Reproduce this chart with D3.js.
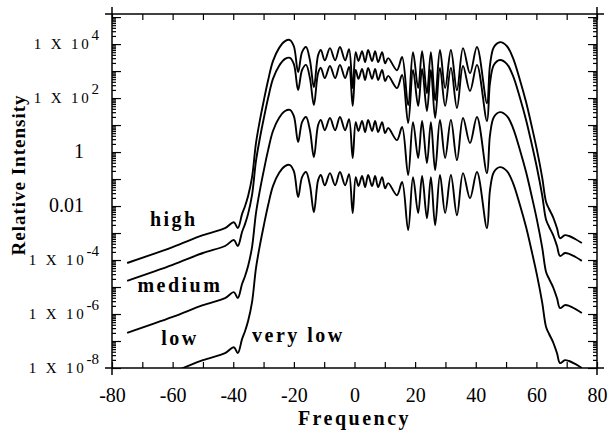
<!DOCTYPE html>
<html>
<head>
<meta charset="utf-8">
<script src="https://cdn.jsdelivr.net/npm/d3@7"></script>
<style>
  body { margin: 0; background: #fff; }
  .tick line { stroke: #000; stroke-width: 1.2; }
  .tick text { font-family: "Liberation Serif", serif; font-size: 20px; fill: #000; }
  .curve { fill: none; stroke: #000; stroke-width: 1.9; stroke-linejoin: round; }
  .lbl { font-family: "Liberation Serif", serif; font-weight: bold; font-size: 20px; letter-spacing: 2.5px; }
</style>
</head>
<body>
<script>
// Frequency samples shared by all four spectra
const freq = [-75, -60, -50, -42.7, -39.8, -38.5, -37.1, -36.1, -35.1, -33.8,
  -32.5, -31.2, -29.9, -28.5, -26.9, -24.9, -22.9, -21.3, -20.0, -18.6,
  -17.3, -16.0, -14.7, -13.4, -12.0, -11.1, -9.8, -8.1, -6.4, -4.8,
  -3.1, -1.8, -0.6, 0.4, 1.3, 2.5, 3.5, 4.5, 5.8, 6.8,
  7.8, 9.1, 10.1, 11.1, 14.0, 15.7, 17.7, 19.3, 21.0, 22.3,
  23.9, 25.2, 26.6, 28.2, 29.9, 31.8, 33.8, 35.8, 38.1, 40.4,
  43.7, 44.7, 46.0, 48.0, 50.3, 52.3, 54.6, 56.6, 58.6, 60.2,
  61.9, 63.2, 64.2, 65.5, 66.8, 67.8, 69.4, 70.8, 72.8, 75.0];

// log10 of relative intensity
const highExp = [-4.11, -3.52, -3.08, -2.82, -2.60, -2.82, -2.30, -2.00, -1.63, -0.93,
  0.33, 1.18, 1.92, 2.66, 3.37, 3.85, 4.11, 4.15, 3.92, 2.96,
  3.70, 3.89, 3.40, 2.40, 3.59, 3.78, 3.40, 3.85, 3.40, 3.89,
  3.40, 3.81, 2.37, 3.70, 3.37, 3.74, 3.33, 3.78, 3.37, 3.74,
  3.33, 3.70, 3.29, 3.48, 3.03, 3.52, 1.74, 3.70, 2.37, 3.74,
  2.18, 3.70, 1.92, 3.78, 2.37, 3.78, 2.29, 3.85, 2.92, 3.89,
  1.81, 3.22, 3.89, 4.07, 3.92, 3.48, 2.66, 1.85, 0.89, 0.07,
  -0.93, -1.85, -2.11, -2.41, -2.82, -3.19, -3.08, -3.11, -3.22, -3.37];

const mediumExp = [-4.77, -4.18, -3.74, -3.48, -3.26, -3.48, -2.96, -2.66, -2.29, -1.59,
  -0.33, 0.52, 1.26, 2.00, 2.71, 3.19, 3.45, 3.49, 3.26, 2.30,
  3.04, 3.23, 2.74, 1.74, 2.93, 3.12, 2.74, 3.19, 2.74, 3.23,
  2.74, 3.15, 1.71, 3.04, 2.71, 3.08, 2.67, 3.12, 2.71, 3.08,
  2.67, 3.04, 2.63, 2.82, 2.37, 2.86, 1.08, 3.04, 1.71, 3.08,
  1.52, 3.04, 1.26, 3.12, 1.71, 3.12, 1.63, 3.19, 2.26, 3.23,
  1.15, 2.56, 3.23, 3.41, 3.26, 2.82, 2.00, 1.19, 0.23, -0.59,
  -1.59, -2.51, -2.77, -3.07, -3.48, -3.85, -3.74, -3.77, -3.88, -4.03];

const lowExp = [-6.70, -6.11, -5.67, -5.41, -5.19, -5.41, -4.89, -4.59, -4.22, -3.52,
  -2.26, -1.41, -0.67, 0.07, 0.78, 1.26, 1.52, 1.56, 1.33, 0.37,
  1.11, 1.30, 0.81, -0.19, 1.00, 1.19, 0.81, 1.26, 0.81, 1.30,
  0.81, 1.22, -0.22, 1.11, 0.78, 1.15, 0.74, 1.19, 0.78, 1.15,
  0.74, 1.11, 0.70, 0.89, 0.44, 0.93, -0.85, 1.11, -0.22, 1.15,
  -0.41, 1.11, -0.67, 1.19, -0.22, 1.19, -0.30, 1.26, 0.33, 1.30,
  -0.78, 0.63, 1.30, 1.48, 1.33, 0.89, 0.07, -0.74, -1.70, -2.52,
  -3.52, -4.44, -4.70, -5.00, -5.41, -5.78, -5.67, -5.70, -5.81, -5.96];

const veryLowExp = [-8.74, -8.15, -7.71, -7.45, -7.23, -7.45, -6.93, -6.63, -6.26, -5.56,
  -4.30, -3.45, -2.71, -1.97, -1.26, -0.78, -0.52, -0.48, -0.71, -1.67,
  -0.93, -0.74, -1.23, -2.23, -1.04, -0.85, -1.23, -0.78, -1.23, -0.74,
  -1.23, -0.82, -2.26, -0.93, -1.26, -0.89, -1.30, -0.85, -1.26, -0.89,
  -1.30, -0.93, -1.34, -1.15, -1.60, -1.11, -2.89, -0.93, -2.26, -0.89,
  -2.45, -0.93, -2.71, -0.85, -2.26, -0.85, -2.34, -0.78, -1.71, -0.74,
  -2.82, -1.41, -0.74, -0.56, -0.71, -1.15, -1.97, -2.78, -3.74, -4.56,
  -5.56, -6.48, -6.74, -7.04, -7.45, -7.82, -7.71, -7.74, -7.85, -8.00];

const seriesNames = ["high", "medium", "low", "very low"];
const xTicks = [-80, -70, -60, -50, -40, -30, -20, -10, 0, 10, 20, 30, 40, 50, 60, 70, 80];
const yLabelValues = [1e4, 1e2, 1, 0.01, 1e-4, 1e-6, 1e-8];
const yLabelBase = ["1 X 10", "1 X 10", "1", "0.01", "1 X 10", "1 X 10", "1 X 10"];
const yLabelSup = ["4", "2", "", "", "-4", "-6", "-8"];

const svgWidth = 610;
const svgHeight = 437;
const margin = { top: 14, right: 13, bottom: 69, left: 112 };

const svg = d3.select("body").append("svg")
  .attr("width", svgWidth)
  .attr("height", svgHeight);

const x = d3.scaleLinear().domain([-80, 80]).range([margin.left, svgWidth - margin.right]);
const y = d3.scaleLog().domain([1e-8, 1.3e5]).range([svgHeight - margin.bottom, margin.top]);

const x0 = x.range()[0], x1 = x.range()[1];
const y0 = y.range()[0], y1 = y.range()[1];

// log tick positions, decades and 2..9
const majorY = [], minorY = [];
for (let d = -8; d <= 5; d++) {
  for (let m = 1; m <= 9; m++) {
    const v = m * Math.pow(10, d);
    if (v < 1e-8 || v > 1.3e5) continue;
    (m === 1 ? majorY : minorY).push(v);
  }
}

// clip for the curves
svg.append("clipPath").attr("id", "plot")
  .append("rect").attr("x", x0).attr("y", y1).attr("width", x1 - x0).attr("height", y0 - y1);

const line = d3.line()
  .curve(d3.curveCatmullRom.alpha(0.5))
  .x((d, i) => x(freq[i]))
  .y(d => y(Math.pow(10, d)));

const plot = svg.append("g").attr("clip-path", "url(#plot)");
[highExp, mediumExp, lowExp, veryLowExp].forEach(s => {
  plot.append("path").attr("class", "curve").attr("d", line(s));
});

// bottom and top axes
svg.append("g")
  .attr("transform", `translate(0,${y0})`)
  .call(d3.axisBottom(x).tickValues(xTicks).tickSizeInner(-6).tickSizeOuter(0).tickPadding(20)
    .tickFormat(d => d % 20 === 0 ? String(d) : ""))
  .call(g => g.select(".domain").remove());

svg.append("g")
  .attr("transform", `translate(0,${y1})`)
  .call(d3.axisTop(x).tickValues(xTicks).tickSizeInner(-6).tickSizeOuter(0).tickFormat(""))
  .call(g => g.select(".domain").remove());

// left and right axes, ticks inward
function yTicks(axisFn, xPos, vals, len) {
  svg.append("g")
    .attr("transform", `translate(${xPos},0)`)
    .call(axisFn(y).tickValues(vals).tickSizeInner(-len).tickSizeOuter(0).tickFormat(""))
    .call(g => g.select(".domain").remove());
}
yTicks(d3.axisLeft, x0, majorY, 9);
yTicks(d3.axisLeft, x0, minorY, 4);
yTicks(d3.axisRight, x1, majorY, 9);
yTicks(d3.axisRight, x1, minorY, 4);

// frame with small overshoot at corners
const ov = 7;
const frame = svg.append("g").attr("stroke", "#000").attr("stroke-width", 1.5);
frame.append("line").attr("x1", x0 - ov).attr("x2", x1 + ov).attr("y1", y0).attr("y2", y0);
frame.append("line").attr("x1", x0 - ov).attr("x2", x1 + ov).attr("y1", y1).attr("y2", y1);
frame.append("line").attr("x1", x0).attr("x2", x0).attr("y1", y1 - ov).attr("y2", y0 + ov);
frame.append("line").attr("x1", x1).attr("x2", x1).attr("y1", y1 - ov).attr("y2", y0 + ov);

// y tick labels
const yl = svg.append("g").attr("font-family", "Liberation Serif, serif").attr("fill", "#000");
yLabelValues.forEach((v, i) => {
  if (yLabelSup[i] === "") {
    yl.append("text")
      .attr("x", 84).attr("y", y(v) + 6)
      .attr("text-anchor", "end")
      .attr("font-size", 20)
      .text(yLabelBase[i]);
  } else {
    const t = yl.append("text")
      .attr("x", 99).attr("y", y(v) + 5)
      .attr("text-anchor", "end")
      .attr("font-size", 15)
      .style("letter-spacing", "2.8px");
    t.append("tspan").text(yLabelBase[i]);
    t.append("tspan").attr("dy", -9).attr("font-size", 15).style("letter-spacing", "0px").text(yLabelSup[i]);
  }
});

// axis titles
svg.append("text")
  .attr("class", "lbl")
  .attr("x", (x0 + x1) / 2).attr("y", 425)
  .attr("text-anchor", "middle")
  .style("font-size", "20px")
  .style("letter-spacing", "2.5px")
  .text("Frequency");

svg.append("text")
  .attr("class", "lbl")
  .attr("transform", `translate(25,${y(Math.pow(10, -0.85))}) rotate(-90)`)
  .attr("text-anchor", "middle")
  .style("font-size", "19px")
  .style("letter-spacing", "1px")
  .text("Relative Intensity");

// series labels
const labelAt = [
  { f: -59.6, e: -2.74, anchor: "middle" },
  { f: -57.6, e: -5.19, anchor: "middle" },
  { f: -57.6, e: -7.15, anchor: "middle" },
  { f: -33.8, e: -7.04, anchor: "start" }
];
seriesNames.forEach((name, i) => {
  svg.append("text")
    .attr("class", "lbl")
    .attr("x", x(labelAt[i].f)).attr("y", y(Math.pow(10, labelAt[i].e)))
    .attr("text-anchor", labelAt[i].anchor)
    .text(name);
});
</script>
</body>
</html>
